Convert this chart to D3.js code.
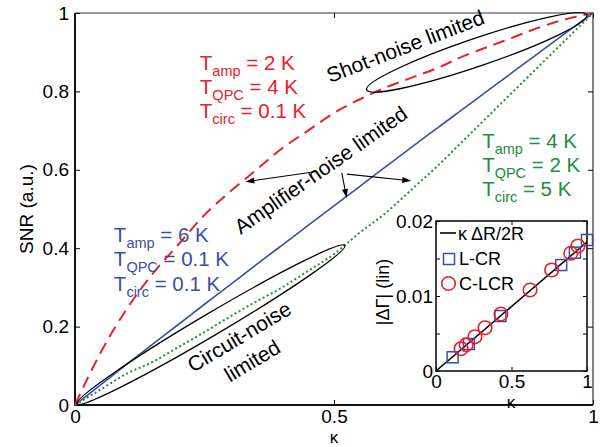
<!DOCTYPE html>
<meta charset="utf-8">
<html lang="en">
<style>
body { margin: 0; background: #fff; }
svg { font-family: "Liberation Sans", Arial, Helvetica, sans-serif; }
.tick line { stroke: #000; }
</style>
<body>
<div id="chart"></div>
<script src="https://cdn.jsdelivr.net/npm/d3@7"></script>
<script>
// main plot: SNR vs kappa for three temperature sets
var kappa     = [0, 0.025, 0.05, 0.1, 0.15, 0.2, 0.25, 0.3, 0.35, 0.4, 0.45, 0.5, 0.55, 0.6, 0.65, 0.7, 0.75, 0.8, 0.85, 0.9, 0.95, 1];
var snrRed    = [0, 0.07, 0.135, 0.245, 0.335, 0.41, 0.485, 0.545, 0.6, 0.655, 0.70, 0.745, 0.78, 0.81, 0.835, 0.86, 0.89, 0.915, 0.94, 0.965, 0.985, 1];
var snrBlue   = [0, 0.026, 0.052, 0.104, 0.155, 0.206, 0.257, 0.307, 0.358, 0.408, 0.458, 0.508, 0.558, 0.608, 0.658, 0.707, 0.756, 0.805, 0.854, 0.903, 0.952, 1];
var snrGreen  = [0, 0.02, 0.04, 0.08, 0.11, 0.148, 0.186, 0.226, 0.264, 0.30, 0.342, 0.385, 0.44, 0.49, 0.55, 0.61, 0.675, 0.74, 0.805, 0.87, 0.935, 1];
var xTicks = [0, 0.5, 1];
var yTicks = [0, 0.2, 0.4, 0.6, 0.8, 1];

// inset: |dGamma| vs kappa
var lcrK  = [0.11, 0.218, 0.427, 0.829, 0.92, 1.0];
var lcrD  = [0.00183, 0.0036, 0.00733, 0.01413, 0.01577, 0.01747];
var clcrK = [0.166, 0.2, 0.258, 0.325, 0.43, 0.623, 0.766, 0.893, 0.94];
var clcrD = [0.00297, 0.0035, 0.00457, 0.00577, 0.0076, 0.0108, 0.01347, 0.0157, 0.01667];
var fitK  = [0, 1];
var fitD  = [0, 0.0172];
var insetXTicks = [0, 0.5, 1];
var insetYTicks = [0, 0.005, 0.01, 0.015, 0.02];
var insetYLabels = ["0", "", "0.01", "", "0.02"];

var red = "#e8202a", blue = "#3a4ea3", green = "#268c3c";

var svg = d3.select("#chart").append("svg")
    .attr("width", 600)
    .attr("height", 447);

var x = d3.scaleLinear().domain([0, 1]).range([75, 593]);
var y = d3.scaleLinear().domain([0, 1]).range([405, 13]);

svg.append("defs").append("marker")
    .attr("id", "arrow")
    .attr("viewBox", "0 -4 10 8")
    .attr("refX", 9).attr("refY", 0)
    .attr("markerWidth", 9).attr("markerHeight", 7)
    .attr("markerUnits", "userSpaceOnUse")
    .attr("orient", "auto")
  .append("path")
    .attr("d", "M0,-3.5L10,0L0,3.5Z")
    .attr("fill", "#000");

// axes
svg.append("g").attr("transform", "translate(0,405)")
    .call(d3.axisBottom(x).tickValues(xTicks).tickFormat(function(d){ return String(d); })
      .tickSizeInner(-5).tickSizeOuter(0).tickPadding(5))
    .call(function(g){ g.select(".domain").remove(); g.selectAll("text").attr("font-size", 19).attr("font-family", null); });
svg.append("g").attr("transform", "translate(0,13)")
    .call(d3.axisTop(x).tickValues(xTicks).tickFormat("").tickSizeInner(-5).tickSizeOuter(0))
    .call(function(g){ g.select(".domain").remove(); });
svg.append("g").attr("transform", "translate(75,0)")
    .call(d3.axisLeft(y).tickValues(yTicks).tickFormat(function(d){ return String(d); })
      .tickSizeInner(-5).tickSizeOuter(0).tickPadding(6))
    .call(function(g){ g.select(".domain").remove(); g.selectAll("text").attr("font-size", 19).attr("font-family", null); });
svg.append("g").attr("transform", "translate(593,0)")
    .call(d3.axisRight(y).tickValues(yTicks).tickFormat("").tickSizeInner(-5).tickSizeOuter(0))
    .call(function(g){ g.select(".domain").remove(); });

// frame
svg.append("path").attr("d", "M75,13H593V405").attr("fill", "none").attr("stroke", "#333").attr("stroke-width", 1.2);
svg.append("path").attr("d", "M75,13V405H593").attr("fill", "none").attr("stroke", "#111").attr("stroke-width", 2);

svg.append("text").attr("x", 334).attr("y", 443).attr("text-anchor", "middle")
    .attr("font-size", 17).text("κ");
svg.append("text").attr("transform", "translate(33,209) rotate(-90)").attr("text-anchor", "middle")
    .attr("font-size", 19).text("SNR (a.u.)");

// curves
var line = d3.line()
    .x(function(d, i){ return x(kappa[i]); })
    .y(function(d){ return y(d); })
    .curve(d3.curveMonotoneX);

svg.append("path").datum(snrRed).attr("d", line)
    .attr("fill", "none").attr("stroke", red).attr("stroke-width", 2).attr("stroke-dasharray", "12,7");
svg.append("path").datum(snrBlue).attr("d", line)
    .attr("fill", "none").attr("stroke", blue).attr("stroke-width", 1.6);
svg.append("path").datum(snrGreen).attr("d", line)
    .attr("fill", "none").attr("stroke", green).attr("stroke-width", 2).attr("stroke-dasharray", "2,2.6");

// ellipses around limiting regimes (end points in data units)
function ellipse(k0, s0, k1, s1, ry) {
  var x0 = x(k0), y0 = y(s0), x1 = x(k1), y1 = y(s1);
  var rx = Math.hypot(x1 - x0, y1 - y0) / 2;
  var ang = Math.atan2(y1 - y0, x1 - x0) * 180 / Math.PI;
  svg.append("ellipse")
    .attr("transform", "translate(" + ((x0 + x1) / 2) + "," + ((y0 + y1) / 2) + ") rotate(" + ang + ")")
    .attr("rx", rx).attr("ry", ry)
    .attr("fill", "none").attr("stroke", "#000").attr("stroke-width", 1.3);
}
ellipse(0.563, 0.804, 0.988, 0.995, 14);
ellipse(0.004, 0.003, 0.521, 0.407, 11);

// arrows
var arrows = [
  [0.463, 0.595, 0.331, 0.570],
  [0.515, 0.592, 0.524, 0.531],
  [0.525, 0.589, 0.647, 0.572]
];
svg.selectAll(".arr").data(arrows).enter().append("line")
    .attr("x1", function(d){ return x(d[0]); }).attr("y1", function(d){ return y(d[1]); })
    .attr("x2", function(d){ return x(d[2]); }).attr("y2", function(d){ return y(d[3]); })
    .attr("stroke", "#000").attr("stroke-width", 1.1)
    .attr("marker-end", "url(#arrow)");

// rotated regime labels
function rotLabel(px, py, ang, txt) {
  svg.append("text")
    .attr("transform", "translate(" + px + "," + py + ") rotate(" + ang + ")")
    .attr("text-anchor", "middle").attr("font-size", 21).text(txt);
}
rotLabel(408, 53, -21, "Shot-noise limited");
rotLabel(325, 176, -35, "Amplifier-noise limited");
rotLabel(243, 343, -31, "Circuit-noise");
rotLabel(256, 367, -31, "limited");

// temperature blocks
function tempBlock(k, s, color, rows) {
  rows.forEach(function(r, i) {
    var t = svg.append("text").attr("x", x(k)).attr("y", y(s) + i * 24.3)
      .attr("fill", color).attr("font-size", 20.5);
    t.append("tspan").text("T");
    t.append("tspan").attr("font-size", 14.5).attr("dy", 6).text(r[0]);
    t.append("tspan").attr("dy", -6).text(" = " + r[1]);
  });
}
tempBlock(0.241, 0.855, red, [["amp", "2 K"], ["QPC", "4 K"], ["circ", "0.1 K"]]);
tempBlock(0.075, 0.416, blue, [["amp", "6 K"], ["QPC", "0.1 K"], ["circ", "0.1 K"]]);
tempBlock(0.786, 0.656, green, [["amp", "4 K"], ["QPC", "2 K"], ["circ", "5 K"]]);

// inset
var xi = d3.scaleLinear().domain([0, 1]).range([436, 587]);
var yi = d3.scaleLinear().domain([0, 0.02]).range([371, 221]);

svg.append("rect").attr("x", 436).attr("y", 221).attr("width", 151).attr("height", 150)
    .attr("fill", "#fff").attr("stroke", "none");

svg.append("g").attr("transform", "translate(0,371)")
    .call(d3.axisBottom(xi).tickValues(insetXTicks).tickFormat(function(d){ return String(d); })
      .tickSizeInner(-4).tickSizeOuter(0).tickPadding(4))
    .call(function(g){ g.select(".domain").remove(); g.selectAll("text").attr("font-size", 19).attr("font-family", null); });
svg.append("g").attr("transform", "translate(0,221)")
    .call(d3.axisTop(xi).tickValues(insetXTicks).tickFormat("").tickSizeInner(-4).tickSizeOuter(0))
    .call(function(g){ g.select(".domain").remove(); });
svg.append("g").attr("transform", "translate(436,0)")
    .call(d3.axisLeft(yi).tickValues(insetYTicks).tickFormat(function(d, i){ return insetYLabels[i]; })
      .tickSizeInner(-4).tickSizeOuter(0).tickPadding(3))
    .call(function(g){ g.select(".domain").remove(); g.selectAll("text").attr("font-size", 19).attr("font-family", null); });
svg.append("g").attr("transform", "translate(587,0)")
    .call(d3.axisRight(yi).tickValues(insetYTicks).tickFormat("").tickSizeInner(-4).tickSizeOuter(0))
    .call(function(g){ g.select(".domain").remove(); });

svg.append("rect").attr("x", 436).attr("y", 221).attr("width", 151).attr("height", 150)
    .attr("fill", "none").attr("stroke", "#111").attr("stroke-width", 1.6);

svg.append("text").attr("x", 511).attr("y", 408).attr("text-anchor", "middle")
    .attr("font-size", 17).text("κ");
svg.append("text").attr("transform", "translate(389,292) rotate(-90)").attr("text-anchor", "middle")
    .attr("font-size", 18).text("|ΔΓ| (lin)");

var fitLine = d3.line()
    .x(function(d, i){ return xi(fitK[i]); })
    .y(function(d){ return yi(d); });
svg.append("path").datum(fitD).attr("d", fitLine)
    .attr("fill", "none").attr("stroke", "#000").attr("stroke-width", 1.6);

svg.selectAll(".sq").data(lcrD).enter().append("rect")
    .attr("x", function(d, i){ return xi(lcrK[i]) - 5.5; })
    .attr("y", function(d){ return yi(d) - 5.5; })
    .attr("width", 11).attr("height", 11)
    .attr("fill", "none").attr("stroke", blue).attr("stroke-width", 1.5);
svg.selectAll(".ci").data(clcrD).enter().append("circle")
    .attr("cx", function(d, i){ return xi(clcrK[i]); })
    .attr("cy", function(d){ return yi(d); })
    .attr("r", 6.8)
    .attr("fill", "none").attr("stroke", red).attr("stroke-width", 1.6);

// inset legend
var leg = svg.append("g");
leg.append("line").attr("x1", 440).attr("x2", 456).attr("y1", 233).attr("y2", 233)
    .attr("stroke", "#000").attr("stroke-width", 1.6);
leg.append("text").attr("x", 458).attr("y", 240).attr("font-size", 18).text("κ ΔR/2R");
leg.append("rect").attr("x", 443.5).attr("y", 253.5).attr("width", 11).attr("height", 11)
    .attr("fill", "none").attr("stroke", blue).attr("stroke-width", 1.5);
leg.append("text").attr("x", 459).attr("y", 265).attr("font-size", 18).text("L-CR");
leg.append("circle").attr("cx", 448.5).attr("cy", 283.5).attr("r", 6.8)
    .attr("fill", "none").attr("stroke", red).attr("stroke-width", 1.6);
leg.append("text").attr("x", 459).attr("y", 290).attr("font-size", 18).text("C-LCR");
</script>
</body>
</html>
